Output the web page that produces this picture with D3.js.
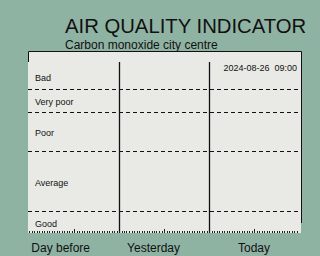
<!DOCTYPE html>
<html>
<head>
<meta charset="utf-8">
<script src="https://cdn.jsdelivr.net/npm/d3@7"></script>
<style>
  body { margin: 0; background: #8fb3a3; }
  svg { display: block; }
  text { font-family: "Liberation Sans", Arial, sans-serif; fill: #111; }
</style>
</head>
<body>
<svg class="aqi" width="320" height="256"></svg>
<script>
const levels = ["Good", "Average", "Poor", "Very poor", "Bad"]
const levelTops = [13, 48, 71, 84, 100]
const days = ["Day before", "Yesterday", "Today"]
const dayStarts = ["2024-08-24", "2024-08-25", "2024-08-26", "2024-08-27"]
const stamp = "2024-08-26  09:00"

const parseDay = d3.timeParse("%Y-%m-%d")
const dayDates = dayStarts.map(parseDay)

const svg = d3.select("svg.aqi")

const x = d3.scaleTime()
  .domain([dayDates[0], dayDates[3]])
  .range([29, 299])

const y = d3.scaleLinear()
  .domain([0, 100])
  .range([233, 62])

// panel background
svg.append("rect")
  .attr("x", 28).attr("y", 51)
  .attr("width", 273).attr("height", 182)
  .attr("fill", "#e9eae5")

// partial frame
svg.append("path")
  .attr("d", "M28.5,62V51.5H301.5V223")
  .attr("fill", "none")
  .attr("stroke", "#111")

// level boundaries
svg.selectAll("line.level")
  .data(levelTops.slice(0, -1))
  .enter()
  .append("line")
  .attr("class", "level")
  .attr("x1", 28).attr("x2", 301)
  .attr("y1", d => Math.round(y(d)) + 0.5)
  .attr("y2", d => Math.round(y(d)) + 0.5)
  .attr("stroke", "#111")
  .attr("stroke-dasharray", "4,3")

// level labels, roughly centred in each band
svg.selectAll("text.level")
  .data(levels)
  .enter()
  .append("text")
  .attr("class", "level")
  .attr("x", 35)
  .attr("y", (d, i) => {
    const lo = i === 0 ? 0 : levelTops[i - 1]
    return (y(lo) + y(levelTops[i])) / 2 + 5
  })
  .attr("font-size", 9)
  .text(d => d)

// day separators
svg.selectAll("line.day")
  .data(dayDates.slice(1, 3))
  .enter()
  .append("line")
  .attr("class", "day")
  .attr("x1", d => Math.round(x(d)) + 0.5)
  .attr("x2", d => Math.round(x(d)) + 0.5)
  .attr("y1", y(100)).attr("y2", y(0))
  .attr("stroke", "#111")
  .attr("stroke-width", 1.3)

// time ticks along the bottom, tall one at noon
const ticks = d3.timeMinute.range(dayDates[0], dayDates[3], 40)
svg.selectAll("line.tick")
  .data(ticks)
  .enter()
  .append("line")
  .attr("class", "tick")
  .attr("x1", d => Math.round(x(d)) + 0.5)
  .attr("x2", d => Math.round(x(d)) + 0.5)
  .attr("y1", d => d.getHours() === 12 && d.getMinutes() === 0 ? 229 : 231)
  .attr("y2", 233)
  .attr("stroke", "#222")

// day labels
svg.selectAll("text.day")
  .data(days)
  .enter()
  .append("text")
  .attr("class", "day")
  .attr("x", (d, i) => x(dayDates[i + 1]) - 29)
  .attr("y", 252)
  .attr("text-anchor", "end")
  .attr("font-size", 12)
  .text(d => d)

// timestamp
svg.append("text")
  .attr("x", 297).attr("y", 71)
  .attr("text-anchor", "end")
  .attr("font-size", 9)
  .style("white-space", "pre")
  .text(stamp)

svg.append("text")
  .attr("x", 65).attr("y", 33)
  .attr("font-size", 20.3)
  .text("AIR QUALITY INDICATOR")

svg.append("text")
  .attr("x", 65).attr("y", 49)
  .attr("font-size", 12)
  .text("Carbon monoxide city centre")
</script>
</body>
</html>
